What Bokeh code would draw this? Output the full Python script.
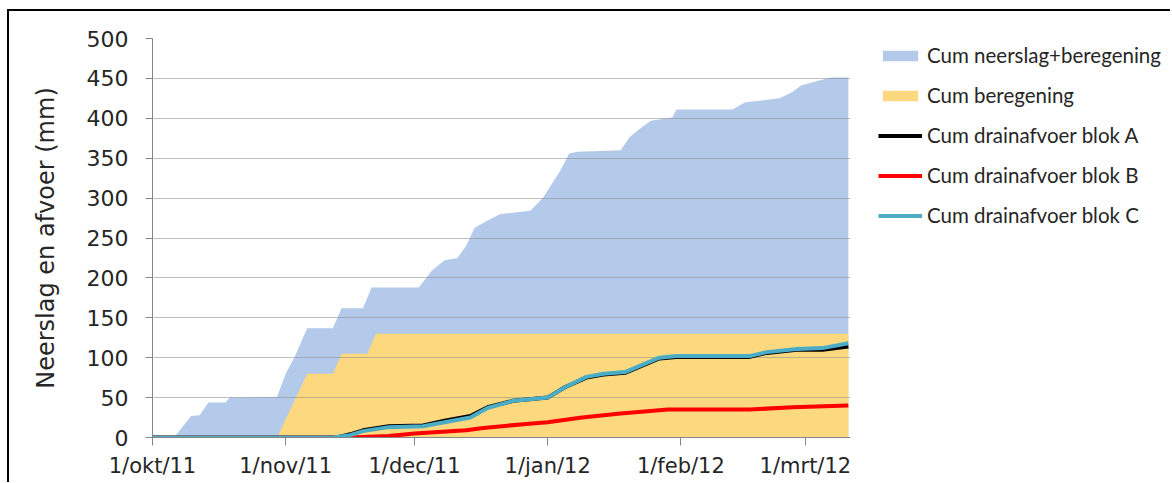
import pandas as pd
from bokeh.plotting import figure
from bokeh.layouts import row
from bokeh.models import Range1d, FixedTicker, Legend, LegendItem
from bokeh.embed import file_html
from bokeh.resources import INLINE

# ---- data ----
start_date = "2011-10-01"

tot_dates = ["2011-10-01", "2011-10-06", "2011-10-10", "2011-10-12", "2011-10-14", "2011-10-18",
             "2011-10-19", "2011-10-30", "2011-11-01", "2011-11-03", "2011-11-06", "2011-11-12",
             "2011-11-14", "2011-11-19", "2011-11-21", "2011-12-02", "2011-12-05", "2011-12-08",
             "2011-12-11", "2011-12-13", "2011-12-15", "2011-12-18", "2011-12-21", "2011-12-28",
             "2011-12-31", "2012-01-02", "2012-01-04", "2012-01-06", "2012-01-08", "2012-01-18",
             "2012-01-20", "2012-01-22", "2012-01-25", "2012-01-30", "2012-01-31", "2012-02-13",
             "2012-02-16", "2012-02-24", "2012-02-27", "2012-02-29", "2012-03-04", "2012-03-07",
             "2012-03-11"]
tot_vals = [0, 0, 27, 28, 44, 44, 50, 51, 80, 100, 137, 137, 162, 162, 188, 188, 209, 222,
            225, 240, 263, 272, 280, 284, 301, 318, 335, 356, 358, 360, 376, 385, 397, 401,
            411, 411, 420, 425, 433, 441, 447, 451, 451]

ber_dates = ["2011-10-01", "2011-10-30", "2011-11-06", "2011-11-12", "2011-11-14", "2011-11-20",
             "2011-11-22", "2012-03-11"]
ber_vals = [0, 0, 80, 80, 105, 105, 130, 130]

a_dates = ["2011-10-01", "2011-11-13", "2011-11-16", "2011-11-19", "2011-11-25", "2011-12-03",
           "2011-12-08", "2011-12-14", "2011-12-18", "2011-12-24", "2012-01-01", "2012-01-05",
           "2012-01-10", "2012-01-14", "2012-01-19", "2012-01-23", "2012-01-27", "2012-01-31",
           "2012-02-17", "2012-02-21", "2012-02-28", "2012-03-05", "2012-03-11"]
a_vals = [0, 0, 4, 9, 14, 15, 21, 27, 38, 46, 50, 63, 75, 79, 81, 90, 99, 101, 101, 106, 110,
          110, 114]

b_dates = ["2011-10-01", "2011-11-16", "2011-11-25", "2011-12-01", "2011-12-13", "2011-12-17",
           "2011-12-27", "2012-01-01", "2012-01-09", "2012-01-18", "2012-01-29", "2012-02-17",
           "2012-02-27", "2012-03-11"]
b_vals = [0, 0, 2, 5, 9, 12, 17, 19, 25, 30, 35, 35, 38, 40]

c_dates = ["2011-10-01", "2011-11-12", "2011-11-16", "2011-11-19", "2011-11-25", "2011-12-03",
           "2011-12-08", "2011-12-14", "2011-12-18", "2011-12-24", "2012-01-01", "2012-01-05",
           "2012-01-10", "2012-01-14", "2012-01-19", "2012-01-23", "2012-01-27", "2012-01-31",
           "2012-02-17", "2012-02-21", "2012-02-28", "2012-03-05", "2012-03-11"]
c_vals = [0, 0, 3, 8, 13, 14, 19, 25, 37, 46, 50, 63, 76, 80, 82, 91, 100, 102, 102, 107, 111,
          112, 118]

tick_dates = ["2011-10-01", "2011-11-01", "2011-12-01", "2012-01-01", "2012-02-01", "2012-03-01"]
tick_labels = ["1/okt/11", "1/nov/11", "1/dec/11", "1/jan/12", "1/feb/12", "1/mrt/12"]
y_ticks = [0, 50, 100, 150, 200, 250, 300, 350, 400, 450, 500]

labels = ["Cum neerslag+beregening", "Cum beregening", "Cum drainafvoer blok A",
          "Cum drainafvoer blok B", "Cum drainafvoer blok C"]
colors = ["#B3CAEA", "#FCD97F", "#000000", "#FF0000", "#4BACC6"]


def days(ds):
    t0 = pd.Timestamp(start_date)
    return [float((pd.Timestamp(d) - t0).days) for d in ds]


def draw_series(fig):
    rt = fig.varea(x=days(tot_dates), y1=0, y2=tot_vals, fill_color=colors[0])
    rb = fig.varea(x=days(ber_dates), y1=0, y2=ber_vals, fill_color=colors[1])
    rt.level = "image"
    rb.level = "image"
    ra = fig.line(days(a_dates), a_vals, line_color=colors[2], line_width=4)
    rB = fig.line(days(b_dates), b_vals, line_color=colors[3], line_width=4)
    rc = fig.line(days(c_dates), c_vals, line_color=colors[4], line_width=4)
    return [rt, rb, ra, rB, rc]


p = figure(width=846, height=471, output_backend="svg", toolbar_location=None,
           x_range=Range1d(0, 162.5), y_range=Range1d(0, 500),
           min_border_left=143, min_border_right=5, min_border_top=27, min_border_bottom=45)
p.outline_line_color = None
p.background_fill_color = "white"
p.border_fill_color = "white"
draw_series(p)

# grid
p.xgrid.visible = False
p.ygrid.grid_line_color = "#8c8c8c"
p.ygrid.grid_line_alpha = 0.55
p.ygrid.ticker = FixedTicker(ticks=y_ticks)

# axes
ax_font = "DejaVu Sans"
p.xaxis.ticker = FixedTicker(ticks=days(tick_dates))
p.xaxis.major_label_overrides = {dv: lab for dv, lab in zip(days(tick_dates), tick_labels)}
p.yaxis.ticker = FixedTicker(ticks=y_ticks)
for ax in (p.xaxis[0], p.yaxis[0]):
    ax.axis_line_color = "#868686"
    ax.major_tick_line_color = "#868686"
    ax.minor_tick_line_color = None
    ax.major_tick_in = 0
    ax.major_label_text_font = ax_font
    ax.major_label_text_color = "#262626"
p.xaxis.major_tick_out = 8
p.xaxis.major_label_text_font_size = "21px"
p.xaxis.major_label_standoff = 8
p.yaxis.major_tick_out = 7
p.yaxis.major_label_text_font_size = "22px"
p.yaxis.major_label_standoff = 17
p.yaxis.axis_label = "Neerslag en afvoer (mm)"
p.yaxis.axis_label_text_font = ax_font
p.yaxis.axis_label_text_font_size = "24px"
p.yaxis.axis_label_text_font_style = "normal"
p.yaxis.axis_label_text_color = "#262626"
p.yaxis.axis_label_standoff = 24

# legend panel: separate canvas (series drawn out of its view, used only as legend proxies)
q = figure(width=315, height=471, output_backend="svg", toolbar_location=None,
           x_axis_location=None, y_axis_location=None,
           x_range=Range1d(-20, -10), y_range=Range1d(-20, -10),
           min_border_left=0, min_border_right=0, min_border_top=0, min_border_bottom=0)
q.outline_line_color = None
q.xgrid.visible = False
q.ygrid.visible = False
proxies = draw_series(q)

legend = Legend(items=[LegendItem(label=lab, renderers=[r]) for lab, r in zip(labels, proxies)],
                location=(18, 205))
legend.glyph_width = 44
legend.glyph_height = 13
legend.label_height = 20
legend.label_standoff = 5
legend.spacing = 16
legend.padding = 5
legend.margin = 0
legend.border_line_alpha = 0
legend.background_fill_alpha = 0
legend.label_text_font = "Lato"
legend.label_text_font_size = "20.5px"
legend.label_text_color = "#262626"
q.add_layout(legend)

layout = row(p, q, spacing=0)
layout.styles = {"margin-left": "7px", "margin-top": "9px",
                 "border-left": "2px solid #000", "border-top": "2px solid #000"}

open("out.html", "w").write(file_html(layout, INLINE))
